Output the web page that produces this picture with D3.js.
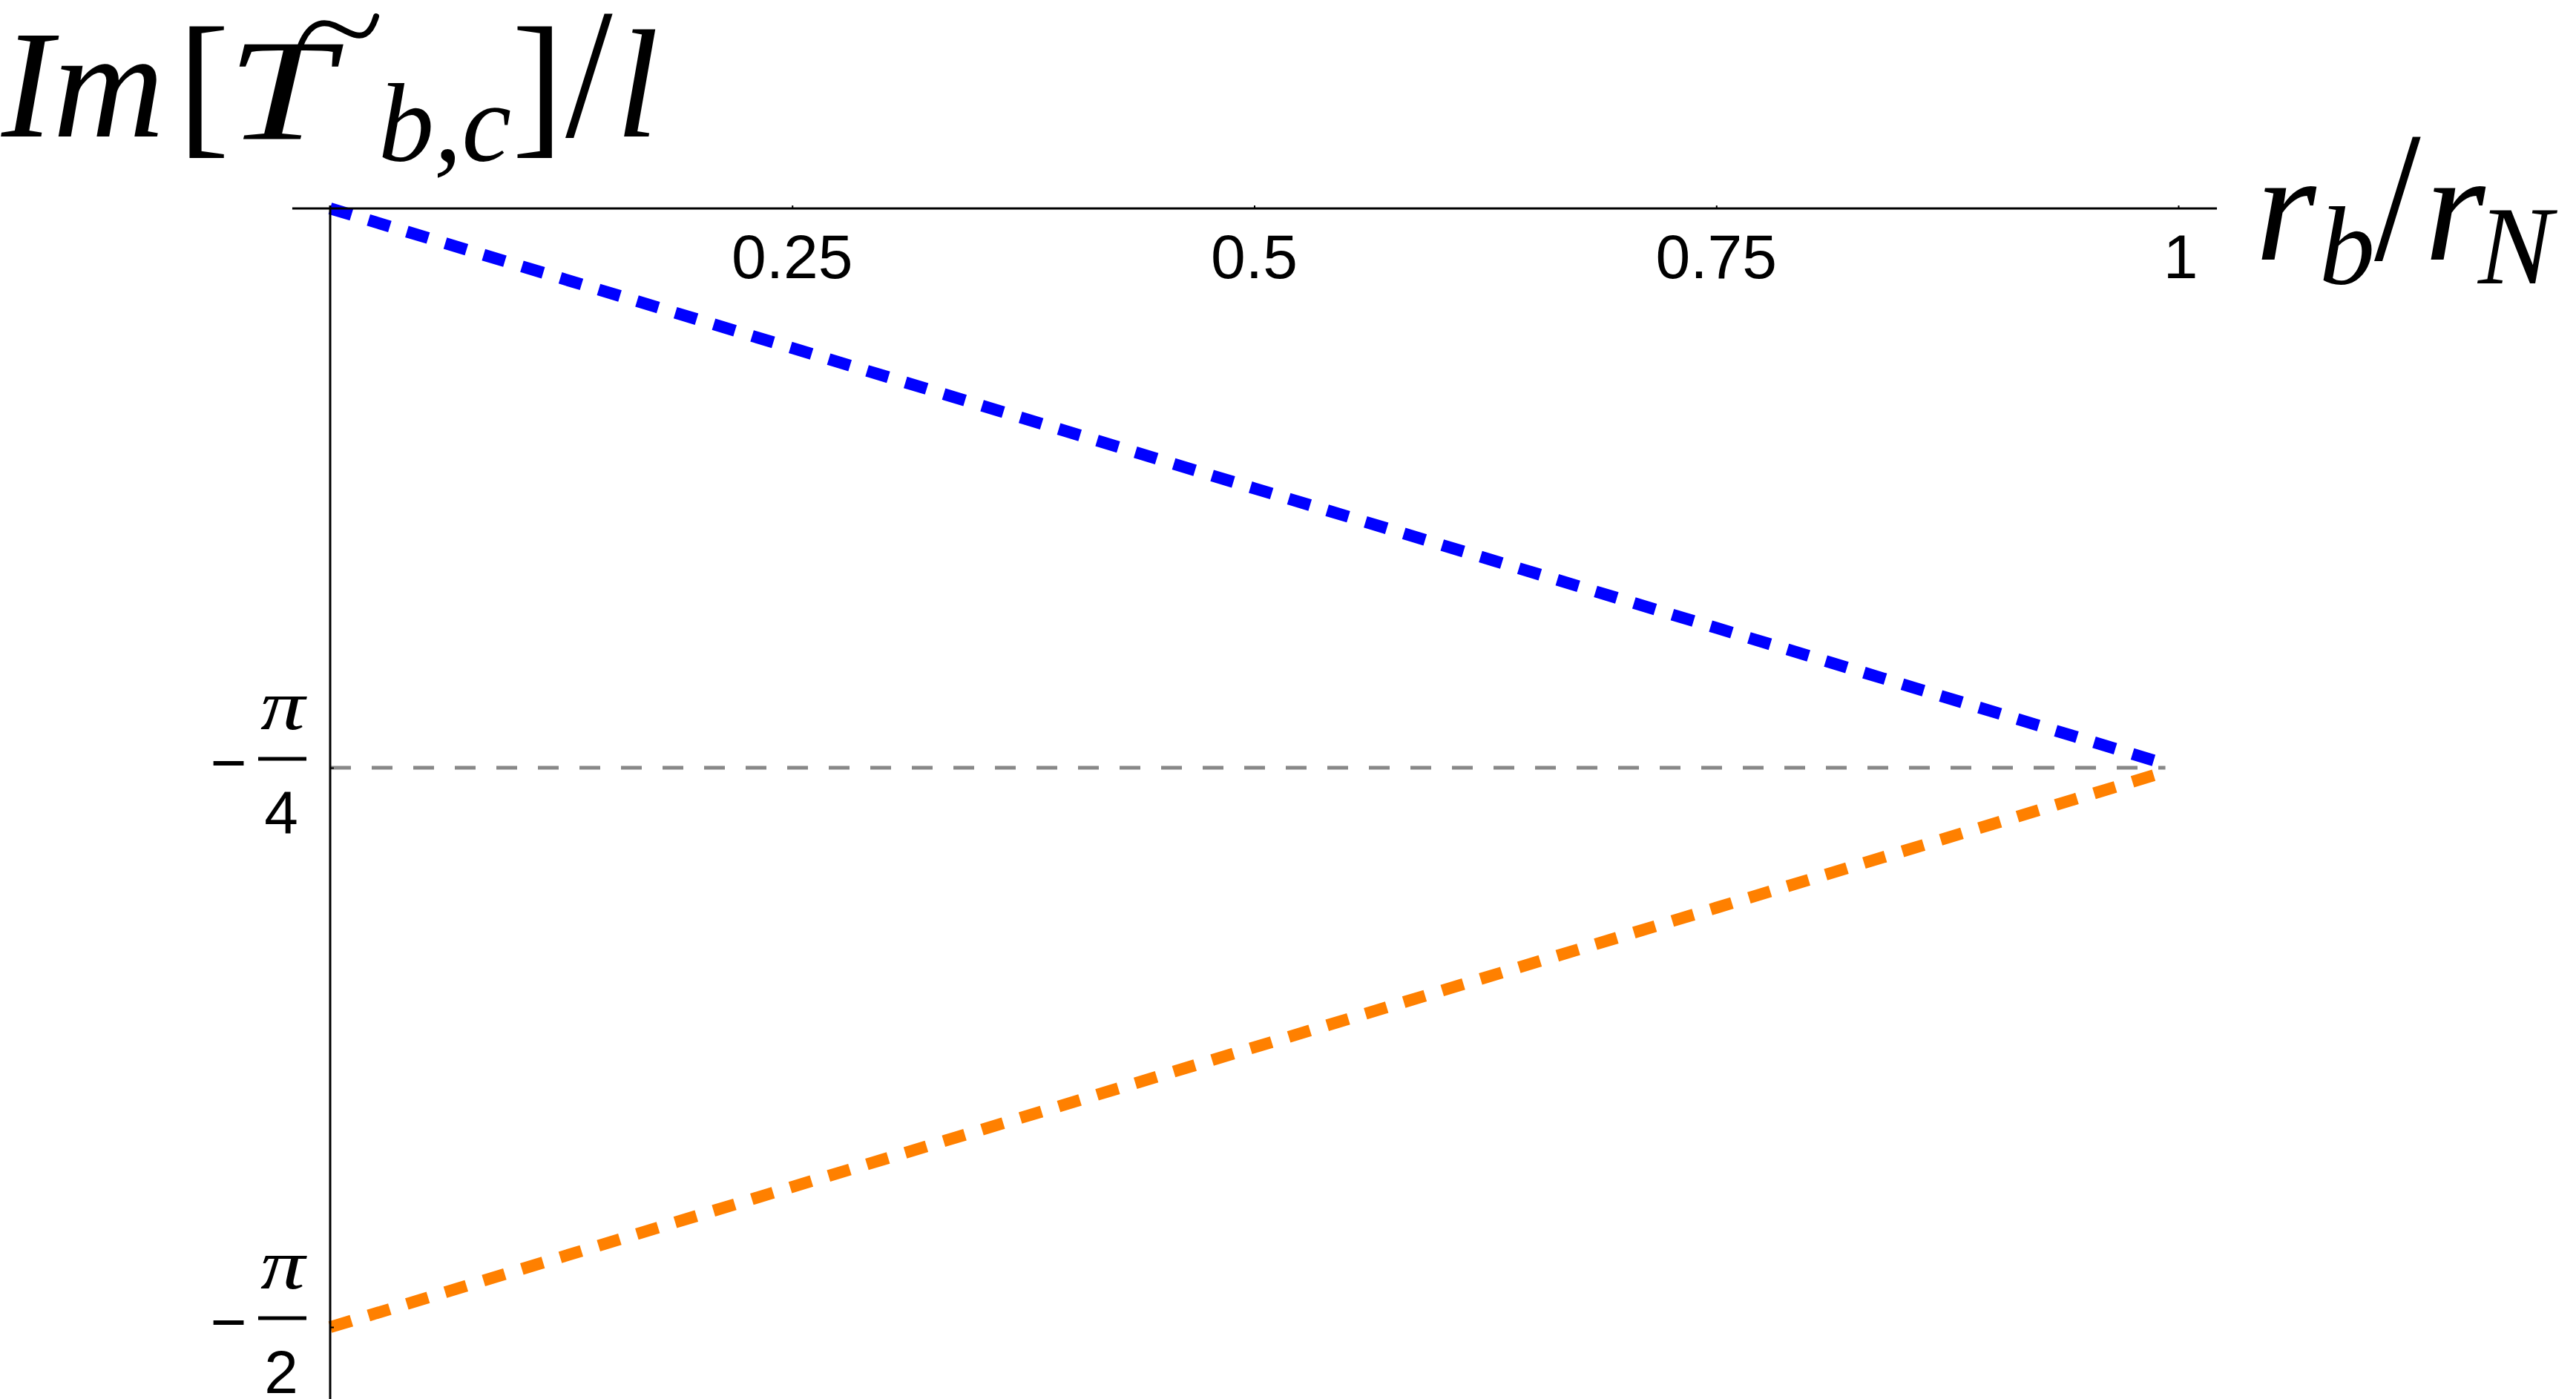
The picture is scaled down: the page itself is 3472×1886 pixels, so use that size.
<!DOCTYPE html>
<html>
<head>
<meta charset="utf-8">
<script src="https://cdn.jsdelivr.net/npm/d3@7"></script>
<style>
  html, body { margin: 0; padding: 0; background: #fff; }
  svg { display: block; }
</style>
</head>
<body>
<svg id="chart" width="3472" height="1886"></svg>
<script>
// ---------- data ----------
const xValues      = [0, 0.25, 0.5, 0.75, 0.993];
const blueValues   = [0, -0.196, -0.393, -0.589, -0.780];
const orangeValues = [-1.571, -1.374, -1.178, -0.982, -0.791];
const refLineX     = [0, 0.993];
const refLineY     = -Math.PI / 4;

const xTickValues  = [0.25, 0.5, 0.75, 1];
const xTickLabels  = ["0.25", "0.5", "0.75", "1"];
const yTickValues  = [-Math.PI / 4, -Math.PI / 2];
const yTickDenoms  = ["4", "2"];

// ---------- layout ----------
const W = 3472, H = 1886;
const svg = d3.select("#chart");

const x = d3.scaleLinear().domain([0, 1]).range([445, 2936]);
const y = d3.scaleLinear().domain([0, -Math.PI / 2]).range([281, 1789]);

const serif = "'Liberation Serif', 'Times New Roman', serif";
const sans  = "'Liberation Sans', Arial, sans-serif";

// ---------- series ----------
const line = d3.line().x(d => x(d[0])).y(d => y(d[1]));

// gray reference dashed line at -pi/4
svg.append("path")
  .datum(refLineX.map(v => [v, refLineY]))
  .attr("d", line)
  .attr("fill", "none")
  .attr("stroke", "#888888")
  .attr("stroke-width", 5)
  .attr("stroke-dasharray", "28 28");

svg.append("path")
  .datum(xValues.map((v, i) => [v, blueValues[i]]))
  .attr("d", line)
  .attr("fill", "none")
  .attr("stroke", "#0000ff")
  .attr("stroke-width", 16)
  .attr("stroke-dasharray", "30 24");

svg.append("path")
  .datum(xValues.map((v, i) => [v, orangeValues[i]]))
  .attr("d", line)
  .attr("fill", "none")
  .attr("stroke", "#ff8000")
  .attr("stroke-width", 16)
  .attr("stroke-dasharray", "30 24");

// ---------- axes ----------
const xAxis = d3.axisTop(x).tickValues(xTickValues).tickSize(4).tickFormat("");
const gx = svg.append("g").attr("transform", `translate(0,${y(0)})`).call(xAxis);
gx.select(".domain").remove();
gx.selectAll(".tick line").attr("stroke", "#000").attr("stroke-width", 2);
gx.append("line")
  .attr("x1", x(-0.0205)).attr("x2", x(1.0209))
  .attr("y1", 0).attr("y2", 0)
  .attr("stroke", "#000").attr("stroke-width", 3);
gx.selectAll(".tlabel")
  .data(xTickValues)
  .enter().append("text")
  .attr("x", d => x(d) + (d === 1 ? 3 : 0))
  .attr("y", 94)
  .attr("text-anchor", "middle")
  .attr("font-family", sans)
  .attr("font-size", 84)
  .attr("fill", "#000")
  .text((d, i) => xTickLabels[i]);

const yAxis = d3.axisRight(y).tickValues(yTickValues).tickSize(5).tickFormat("");
const gy = svg.append("g").attr("transform", `translate(${x(0)},0)`).call(yAxis);
gy.select(".domain").remove();
gy.selectAll(".tick line").attr("stroke", "#000").attr("stroke-width", 2);
gy.append("line")
  .attr("x1", 0).attr("x2", 0)
  .attr("y1", 277).attr("y2", H)
  .attr("stroke", "#000").attr("stroke-width", 3);

// y tick labels:  − π/n
const yl = svg.append("g").selectAll("g")
  .data(yTickValues)
  .enter().append("g")
  .attr("transform", d => `translate(0,${y(d)})`);
yl.append("text")
  .attr("x", 308).attr("y", 22)
  .attr("text-anchor", "middle")
  .attr("font-family", sans).attr("font-size", 84)
  .text("\u2212");
yl.append("text")
  .attr("text-anchor", "middle")
  .attr("font-family", serif).attr("font-style", "italic").attr("font-size", 96)
  .attr("transform", "translate(381,-52) scale(1.25,1)")
  .text("\u03c0");
yl.append("line")
  .attr("x1", 348).attr("x2", 413)
  .attr("y1", -12).attr("y2", -12)
  .attr("stroke", "#000").attr("stroke-width", 5);
yl.append("text")
  .attr("x", 379).attr("y", 89)
  .attr("text-anchor", "middle")
  .attr("font-family", sans).attr("font-size", 82)
  .text((d, i) => yTickDenoms[i]);

// ---------- axis titles ----------
function piece(g, txt, px, py, size, opts = {}) {
  const t = g.append("text")
    .attr("x", px).attr("y", py)
    .attr("font-family", serif)
    .attr("font-size", size)
    .attr("font-style", opts.upright ? "normal" : "italic")
    .attr("fill", "#000")
    .text(txt);
  if (opts.transform) t.attr("transform", opts.transform);
  if (opts.anchor) t.attr("text-anchor", opts.anchor);
  return t;
}

// y title:  Im[ T~ _{b,c} ]/l
const yt = svg.append("g");
piece(yt, "Im", 2, 184, 208);
piece(yt, "[", 0, 0, 208, { upright: true, transform: "translate(240,184) scale(1,1.03)" });
piece(yt, "T", 0, 0, 196, { transform: "translate(306,188) scale(1.3,1)" });
// tilde accent above the T
yt.append("path")
  .attr("d", "M404,64 C414,36 430,26 450,34 C468,42 480,52 492,46 C500,42 504,32 507,22")
  .attr("fill", "none")
  .attr("stroke", "#000")
  .attr("stroke-width", 8)
  .attr("stroke-linecap", "round");
piece(yt, "b,c", 510, 217, 150);
piece(yt, "]", 0, 0, 208, { upright: true, transform: "translate(690,184) scale(1,1.03)" });
piece(yt, "/", 0, 0, 208, { upright: true, transform: "translate(762,184) scale(1.1,1.2)" });
piece(yt, "l", 830, 184, 208);

// x title:  r_b / r_N
const xt = svg.append("g");
piece(xt, "r", 3040, 350, 210);
piece(xt, "b", 3126, 383, 150);
piece(xt, "/", 0, 0, 205, { upright: true, transform: "translate(3200,350) scale(1.1,1.22)" });
piece(xt, "r", 3268, 350, 210);
piece(xt, "N", 3340, 382, 150);
</script>
</body>
</html>
